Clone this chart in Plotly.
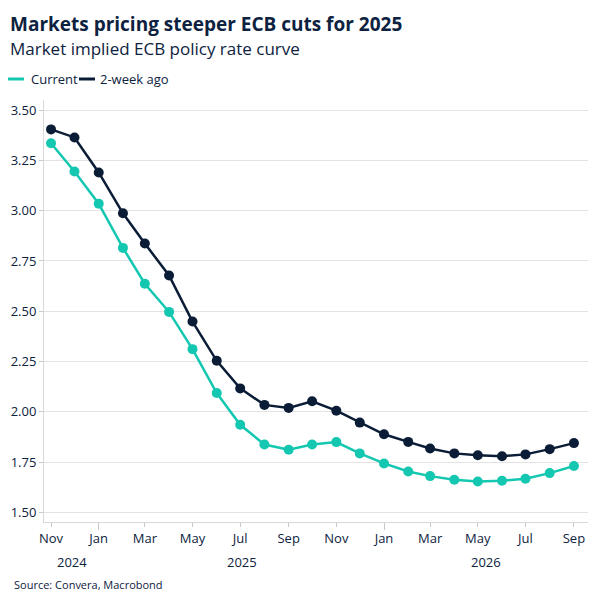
import plotly.graph_objects as go

dates = ["2024-11-01", "2024-12-01", "2025-01-01", "2025-02-01", "2025-03-01", "2025-04-01",
         "2025-05-01", "2025-06-01", "2025-07-01", "2025-08-01", "2025-09-01", "2025-10-01",
         "2025-11-01", "2025-12-01", "2026-01-01", "2026-02-01", "2026-03-01", "2026-04-01",
         "2026-05-01", "2026-06-01", "2026-07-01", "2026-08-01", "2026-09-01"]
current = [3.335, 3.195, 3.035, 2.815, 2.637, 2.497, 2.312, 2.094, 1.936, 1.838, 1.812, 1.838,
           1.850, 1.794, 1.744, 1.704, 1.681, 1.663, 1.654, 1.658, 1.668, 1.696, 1.731]
two_week_ago = [3.404, 3.364, 3.190, 2.987, 2.837, 2.678, 2.449, 2.254, 2.117, 2.035, 2.020, 2.053,
                2.006, 1.947, 1.889, 1.851, 1.818, 1.794, 1.785, 1.780, 1.789, 1.815, 1.845]
series_names = ["Current", "2-week ago"]
year_labels = ["2024", "2025", "2026"]
year_label_pos = ["2024-11-28", "2025-07-03", "2026-05-12"]
y_ticks = [1.50, 1.75, 2.00, 2.25, 2.50, 2.75, 3.00, 3.25, 3.50]

TEAL = "#14C7B0"
NAVY = "#0B1D36"
TXT = "#0D2240"
FONT = "Open Sans"

L, R, T, B = 44, 16, 100, 82
W = H = 604
PW = W - L - R

fig = go.Figure()
for name, vals, col in [(series_names[0], current, TEAL), (series_names[1], two_week_ago, NAVY)]:
    fig.add_trace(go.Scatter(x=dates, y=vals, mode="lines+markers", name=name,
                             line=dict(color=col, width=2.5), marker=dict(size=10, color=col),
                             showlegend=False))

# manual legend (short line swatches like reference)
legend_items = [(series_names[0], TEAL, 8, 29), (series_names[1], NAVY, 79, 98)]
for name, col, lx, tx in legend_items:
    fig.add_shape(type="line", xref="paper", yref="paper",
                  x0=(lx - L) / PW, x1=(lx + 16 - L) / PW,
                  y0=1 + (T - 79) / (H - T - B), y1=1 + (T - 79) / (H - T - B),
                  line=dict(color=col, width=3))
    fig.add_annotation(x=(tx - L) / PW, xref="paper", y=1, yref="paper", yshift=T - 79,
                       xanchor="left", yanchor="middle", text=name, showarrow=False,
                       font=dict(family=FONT, size=13, color=TXT))

# title & subtitle
fig.add_annotation(x=0, xref="paper", xshift=8 - L, y=1, yref="paper", yshift=T - 24,
                   xanchor="left", yanchor="middle", showarrow=False,
                   text="<b>Markets pricing steeper ECB cuts for 2025</b>",
                   font=dict(family=FONT, size=19, color=TXT))
fig.add_annotation(x=0, xref="paper", xshift=8 - L, y=1, yref="paper", yshift=T - 48,
                   xanchor="left", yanchor="middle", showarrow=False,
                   text="Market implied ECB policy rate curve",
                   font=dict(family=FONT, size=17, color=TXT))

for lab, pos in zip(year_labels, year_label_pos):
    fig.add_annotation(x=pos, y=0, xref="x", yref="paper", yshift=-40, yanchor="middle",
                       text=lab, showarrow=False, font=dict(family=FONT, size=13, color=TXT))

fig.add_annotation(x=0, xref="paper", xshift=12 - L, y=0, yref="paper", yshift=-62,
                   xanchor="left", yanchor="middle", text="Source: Convera, Macrobond",
                   showarrow=False, font=dict(family=FONT, size=11, color=TXT))

fig.update_layout(
    width=W, height=H,
    margin=dict(l=L, r=R, t=T, b=B, autoexpand=False),
    paper_bgcolor="white", plot_bgcolor="white",
    font=dict(family=FONT, color=TXT, size=13),
    showlegend=False,
    xaxis=dict(type="date", range=["2024-10-23", "2026-09-19"],
               tickvals=dates[::2], tickformat="%b",
               ticks="outside", ticklen=4, tickcolor="#c8c8c8",
               minor=dict(tickvals=["2025-01-01", "2026-01-01"], ticks="outside", ticklen=7,
                          tickcolor="#c8c8c8"),
               showline=True, linecolor="#d9d9d9", linewidth=1,
               showgrid=False, zeroline=False,
               tickfont=dict(family=FONT, size=13, color=TXT)),
    yaxis=dict(range=[1.453, 3.55], tickvals=y_ticks, tickformat=".2f",
               showgrid=True, gridcolor="#e3e3e3", gridwidth=1,
               showline=True, linecolor="#d9d9d9", zeroline=False,
               ticks="outside", ticklen=4, tickcolor="#c8c8c8",
               tickfont=dict(family=FONT, size=13, color=TXT)),
)

fig.write_html("out.html", config={"displayModeBar": False},
               post_script="document.body.style.margin='0';document.body.style.padding='0';")
